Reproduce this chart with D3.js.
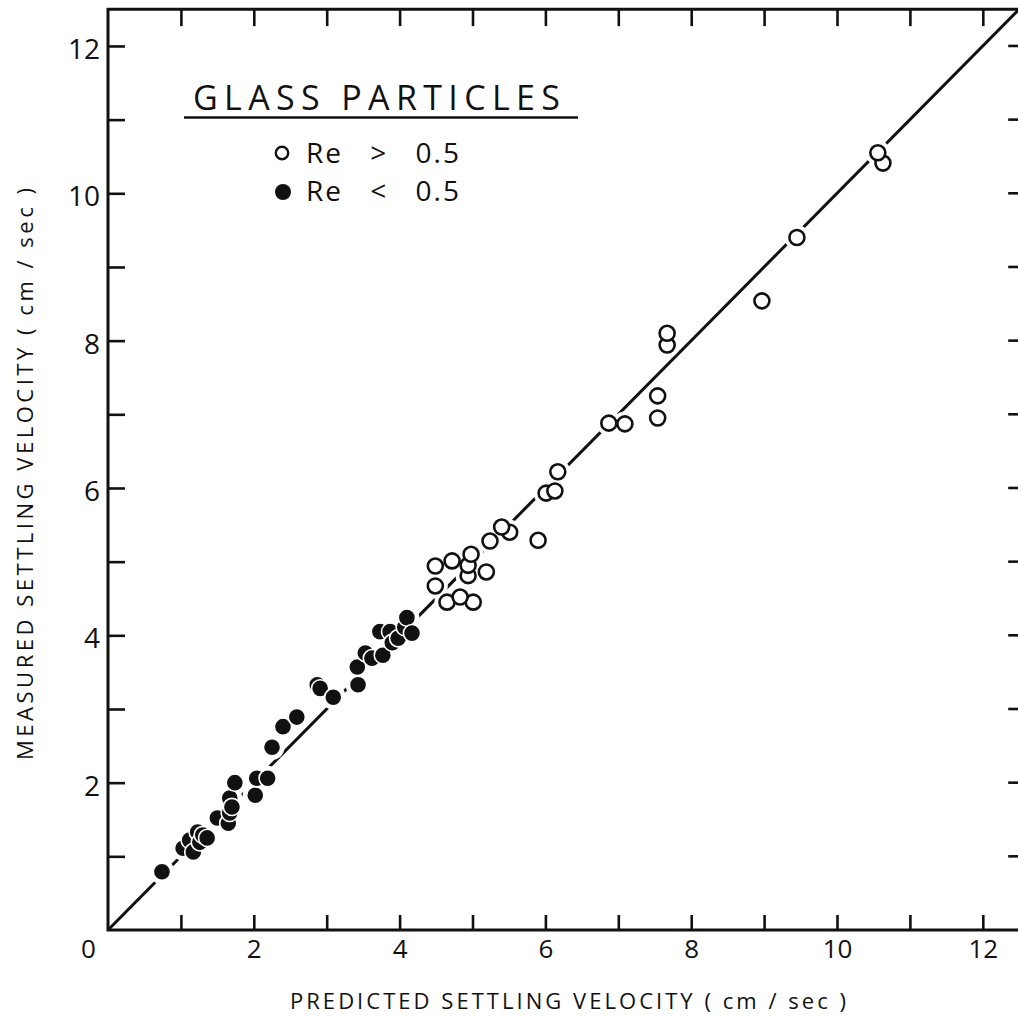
<!DOCTYPE html>
<html>
<head>
<meta charset="utf-8">
<script src="https://cdn.jsdelivr.net/npm/d3@7"></script>
<style>
  html, body { margin: 0; padding: 0; background: #fff; overflow: hidden; }
  svg { display: block; }
  text { font-family: "Open Sans", "DejaVu Sans", sans-serif; fill: #111; }
</style>
</head>
<body>
<svg id="chart" width="1018" height="1018"></svg>
<script>
// Glass particles, Re > 0.5 (open circles): predicted vs measured settling velocity, cm/sec
const predictedOpen = [10.56, 10.63, 9.45, 8.97, 7.67, 7.67, 7.54, 7.54, 6.87, 7.09, 6.17, 6.13, 6.01, 5.90,
                       5.51, 5.40, 5.24, 5.19, 4.98, 4.94, 4.94, 4.72, 4.49, 4.49, 4.65, 4.83, 5.01];
const measuredOpen  = [10.55, 10.41, 9.40, 8.54, 8.10, 7.94, 7.25, 6.95, 6.88, 6.87, 6.22, 5.96, 5.93, 5.29,
                       5.40, 5.47, 5.28, 4.86, 5.10, 4.95, 4.81, 5.01, 4.94, 4.67, 4.45, 4.52, 4.45];

// Glass particles, Re < 0.5 (filled circles)
const predictedFilled = [0.74, 1.03, 1.17, 1.12, 1.26, 1.23, 1.30, 1.36, 1.50, 1.65, 1.67, 1.70, 1.67, 1.74,
                         2.04, 2.19, 2.02, 2.25, 2.40, 2.59, 2.87, 2.91, 3.09, 3.42, 3.43, 3.53, 3.62,
                         3.77, 3.73, 3.87, 3.90, 3.98, 4.17, 4.10, 4.07];
const measuredFilled  = [0.79, 1.11, 1.06, 1.22, 1.19, 1.33, 1.29, 1.25, 1.52, 1.45, 1.59, 1.67, 1.79, 2.00,
                         2.06, 2.06, 1.83, 2.48, 2.76, 2.89, 3.33, 3.28, 3.16, 3.57, 3.33, 3.76, 3.69,
                         3.73, 4.05, 4.05, 3.90, 3.96, 4.03, 4.24, 4.11];

const minorTicks = [1, 2, 3, 4, 5, 6, 7, 8, 9, 10, 11, 12];
const xLabelTicks = [0, 2, 4, 6, 8, 10, 12];
const yLabelTicks = [2, 4, 6, 8, 10, 12];
const legendTitle = "GLASS PARTICLES";
const legendLabels = ["Re > 0.5", "Re < 0.5"];
const xTitle = "PREDICTED SETTLING VELOCITY  ( cm / sec )";
const yTitle = "MEASURED SETTLING VELOCITY  ( cm / sec )";

const svg = d3.select("#chart");
const x = d3.scaleLinear().domain([0, 12.65]).range([108, 108 + 12.65 * 72.9]);
const y = d3.scaleLinear().domain([0, 12.5]).range([930, 930 - 12.5 * 73.67]);
const [x0, x1] = x.range();
const [y0, y1] = y.range();

// Frame ticks: every unit, pointing inward
function styleAxis(g) {
  g.select(".domain").remove();
  g.selectAll(".tick line").attr("stroke", "#111").attr("stroke-width", 2.6);
}
svg.append("g").attr("transform", `translate(0,${y0})`)
  .call(d3.axisBottom(x).tickValues(minorTicks).tickSize(-15).tickFormat(""))
  .call(styleAxis);
svg.append("g").attr("transform", `translate(0,${y1})`)
  .call(d3.axisTop(x).tickValues(minorTicks).tickSize(-17).tickFormat(""))
  .call(styleAxis);
svg.append("g").attr("transform", `translate(${x0},0)`)
  .call(d3.axisLeft(y).tickValues(minorTicks).tickSize(-17).tickFormat(""))
  .call(styleAxis);
// Right-hand ticks, whose border sits just past the page edge
svg.append("g").selectAll("line").data(minorTicks).join("line")
  .attr("x1", x1 - 22).attr("x2", x1)
  .attr("y1", d => y(d)).attr("y2", d => y(d))
  .attr("stroke", "#111").attr("stroke-width", 2.6);

// Frame: left, bottom and top borders
svg.append("path")
  .attr("d", `M${x1},${y1}H${x0}V${y0}H${x1}`)
  .attr("fill", "none").attr("stroke", "#111").attr("stroke-width", 3);

// Tick labels
const xLab = svg.append("g").attr("transform", `translate(0,${y0})`)
  .call(d3.axisBottom(x).tickValues(xLabelTicks).tickSize(0).tickPadding(10).tickFormat(d3.format("d")));
xLab.select(".domain").remove();
xLab.selectAll("text").attr("font-size", 26).attr("font-family", "'Open Sans', sans-serif").attr("fill", "#111")
  .attr("dx", d => d === 0 ? -20 : 0);

const yLab = svg.append("g").attr("transform", `translate(${x0},0)`)
  .call(d3.axisLeft(y).tickValues(yLabelTicks).tickSize(0).tickPadding(8).tickFormat(d3.format("d")));
yLab.select(".domain").remove();
yLab.selectAll("text").attr("font-size", 28).attr("font-family", "'Open Sans', sans-serif").attr("fill", "#111")
  .attr("dy", "0.45em");

// Axis titles
svg.append("text")
  .attr("x", 290).attr("y", 1009)
  .attr("font-size", 22).attr("textLength", 556).attr("lengthAdjust", "spacing")
  .text(xTitle);
svg.append("text")
  .attr("transform", "translate(33,760) rotate(-90)")
  .attr("font-size", 22).attr("textLength", 572).attr("lengthAdjust", "spacing")
  .text(yTitle);

// Line of perfect agreement, measured = predicted
const lineEnd = Math.min(x.domain()[1], y.domain()[1]);
svg.append("line")
  .attr("x1", x(0)).attr("y1", y(0)).attr("x2", x(lineEnd)).attr("y2", y(lineEnd))
  .attr("stroke", "#111").attr("stroke-width", 3);

const openPts = predictedOpen.map((p, i) => ({ p, m: measuredOpen[i] })).sort((a, b) => a.m - b.m);
const filledPts = predictedFilled.map((p, i) => ({ p, m: measuredFilled[i] })).sort((a, b) => a.p - b.p);

// White clearance around each symbol breaks the line where it passes close by
svg.append("g").selectAll("circle").data(openPts.concat(filledPts)).join("circle")
  .attr("cx", d => x(d.p)).attr("cy", d => y(d.m)).attr("r", 12.5).attr("fill", "#fff");

svg.append("g").selectAll("circle").data(filledPts).join("circle")
  .attr("cx", d => x(d.p)).attr("cy", d => y(d.m)).attr("r", 8.6)
  .attr("fill", "#111").attr("stroke", "#fff").attr("stroke-width", 1.6);

svg.append("g").selectAll("circle").data(openPts).join("circle")
  .attr("cx", d => x(d.p)).attr("cy", d => y(d.m)).attr("r", 7.5)
  .attr("fill", "#fff").attr("stroke", "#111").attr("stroke-width", 2.6);

// Legend
const legend = svg.append("g");
legend.append("text").attr("x", 193).attr("y", 110)
  .attr("font-size", 34).attr("textLength", 367).attr("lengthAdjust", "spacing")
  .text(legendTitle);
legend.append("line").attr("x1", 184).attr("x2", 578).attr("y1", 117.5).attr("y2", 117.5)
  .attr("stroke", "#111").attr("stroke-width", 2.6);
legend.append("circle").attr("cx", 282).attr("cy", 153).attr("r", 6.2)
  .attr("fill", "#fff").attr("stroke", "#111").attr("stroke-width", 2.4);
legend.append("circle").attr("cx", 283).attr("cy", 192).attr("r", 8)
  .attr("fill", "#111");
legend.selectAll("text.entry").data(legendLabels).join("text").attr("class", "entry")
  .attr("x", 306).attr("y", (d, i) => 163 + i * 38)
  .attr("font-size", 28).attr("letter-spacing", 2).attr("word-spacing", 18)
  .style("white-space", "pre")
  .text(d => d);
</script>
</body>
</html>
